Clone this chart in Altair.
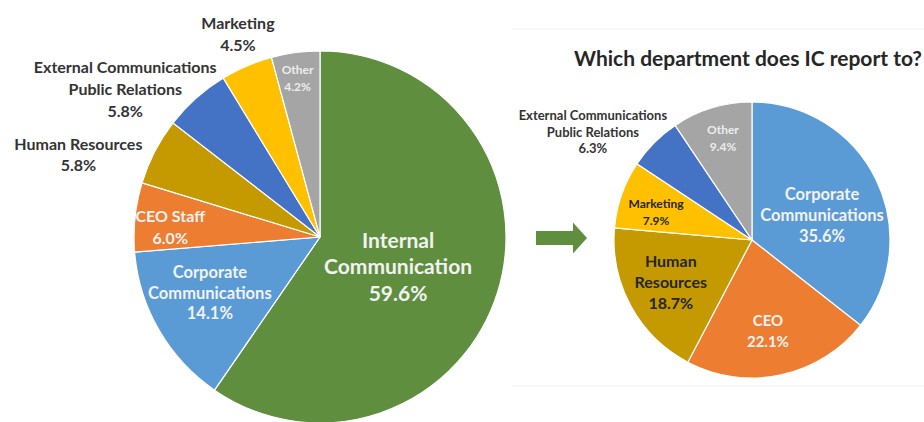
import altair as alt
import pandas as pd

# ---------------- data ----------------
left_categories = ["Internal Communication", "Corporate Communications", "CEO Staff",
                   "Human Resources", "External Communications Public Relations",
                   "Marketing", "Other"]
left_values = [59.6, 14.1, 6.0, 5.8, 5.8, 4.5, 4.2]
left_label_lines = ["Internal\nCommunication", "Corporate\nCommunications", "CEO Staff",
                    "Human Resources", "External Communications\nPublic Relations",
                    "Marketing", "Other"]

right_title = "Which department does IC report to?"
right_categories = ["Corporate Communications", "CEO", "Human Resources", "Marketing",
                    "External Communications Public Relations", "Other"]
right_values = [35.6, 22.1, 18.7, 7.9, 6.3, 9.4]
right_label_lines = ["Corporate\nCommunications", "CEO", "Human\nResources", "Marketing",
                     "External Communications\nPublic Relations", "Other"]

# ---------------- styles / layout ----------------
FONT = "Lato"
colors = {
    "Internal Communication": "#5E8E3E",
    "Corporate Communications": "#5B9BD5",
    "CEO Staff": "#ED7D31",
    "CEO": "#ED7D31",
    "Human Resources": "#C49A00",
    "External Communications Public Relations": "#4472C4",
    "Marketing": "#FFC000",
    "Other": "#A5A5A5",
}
LIGHT = "#F2F2F2"
DARK = "#333333"

# per-label layout: radius (px), angular offset (deg), font size, line height, text colour
left_label_r = [84, 124, 150, 255, 244, 218, 160]
left_label_dth = [4.4, 2.7, -2.7, -8.7, -11.2, 1.1, -0.5]
left_label_fs = [21, 16.5, 16, 16, 16, 16, 12]
left_label_lh = [26.5, 20.5, 22, 21, 22, 22, 17]
left_label_tc = [LIGHT, LIGHT, LIGHT, DARK, DARK, DARK, "#EDEDED"]

right_label_r = [74, 93, 92, 100, 192, 106]
right_label_dth = [7.0, 2.2, 0.6, -3.0, -10.8, 1.0]
right_label_fs = [16.5, 15, 16, 12, 13, 12]
right_label_lh = [21, 21, 21, 17, 16.5, 17]
right_label_tc = [LIGHT, LIGHT, "#262626", "#262626", DARK, "#EDEDED"]

LEFT_C = (320, 237, 186)
RIGHT_C = (752, 240, 138)


def make_df(cats, vals, lines):
    return pd.DataFrame({
        "category": cats,
        "value": vals,
        "order": list(range(len(cats))),
        "color": [colors[c] for c in cats],
        "text": [f"{l}\n{v:.1f}%" for l, v in zip(lines, vals)],
    })


def pie_layers(df, center, lr, dth, fs, lh, tc):
    cx, cy, r = center
    layers = [
        alt.Chart(df).mark_arc(outerRadius=r, stroke="#FFFFFF", strokeWidth=1.2).encode(
            theta=alt.Theta("value:Q", stack=True),
            order=alt.Order("order:Q"),
            color=alt.Color("color:N", scale=None),
            x=alt.value(cx),
            y=alt.value(cy),
        )
    ]
    for i in range(len(df)):
        n_lines = df["text"].iloc[i].count("\n") + 1
        layers.append(
            alt.Chart(df)
            .transform_window(cum="sum(value)", sort=[alt.SortField("order", order="ascending")],
                              frame=[None, 0])
            .transform_calculate(mid=f"datum.cum - datum.value / 2 + ({dth[i]}) / 3.6")
            .transform_filter(f"datum.order == {i}")
            .mark_text(font=FONT, fontWeight="bold", fontSize=fs[i], lineHeight=lh[i],
                       lineBreak="\n", align="center", baseline="middle", radius=lr[i],
                       dy=-(n_lines - 1) * lh[i] / 2)
            .encode(
                theta=alt.Theta("mid:Q", scale=alt.Scale(domain=[0, 100])),
                text=alt.Text("text:N"),
                color=alt.value(tc[i]),
                x=alt.value(cx),
                y=alt.value(cy),
            )
        )
    return layers


left_df = make_df(left_categories, left_values, left_label_lines)
right_df = make_df(right_categories, right_values, right_label_lines)

dummy = pd.DataFrame({"k": [0]})

frame_lines = [
    alt.Chart(dummy).mark_rule(color="#EFEFEF", strokeWidth=1).encode(
        x=alt.value(512), x2=alt.value(924), y=alt.value(29)),
    alt.Chart(dummy).mark_rule(color="#EFEFEF", strokeWidth=1).encode(
        x=alt.value(512), x2=alt.value(924), y=alt.value(386)),
]

title = alt.Chart(pd.DataFrame({"t": [right_title]})).mark_text(
    font=FONT, fontWeight="bold", fontSize=21, color="#262626",
    align="center", baseline="middle").encode(
    text="t:N", x=alt.value(748), y=alt.value(60))

arrow_path = "M-1,-0.27L0.45,-0.27L0.45,-0.61L1,0L0.45,0.61L0.45,0.27L-1,0.27Z"
arrow = alt.Chart(dummy).mark_point(
    shape=arrow_path, filled=True, color="#5E8E3E", opacity=1, size=2601, strokeWidth=0
).encode(x=alt.value(561.5), y=alt.value(238))

layers = (frame_lines
          + pie_layers(left_df, LEFT_C, left_label_r, left_label_dth, left_label_fs,
                       left_label_lh, left_label_tc)
          + pie_layers(right_df, RIGHT_C, right_label_r, right_label_dth, right_label_fs,
                       right_label_lh, right_label_tc)
          + [title, arrow])

chart = (
    alt.layer(*layers)
    .resolve_scale(theta="independent")
    .properties(width=924, height=422, padding=0, autosize="none", background="#FFFFFF")
    .configure_view(stroke=None)
)

chart.save("out.html", embed_options={"renderer": "svg", "actions": False})
